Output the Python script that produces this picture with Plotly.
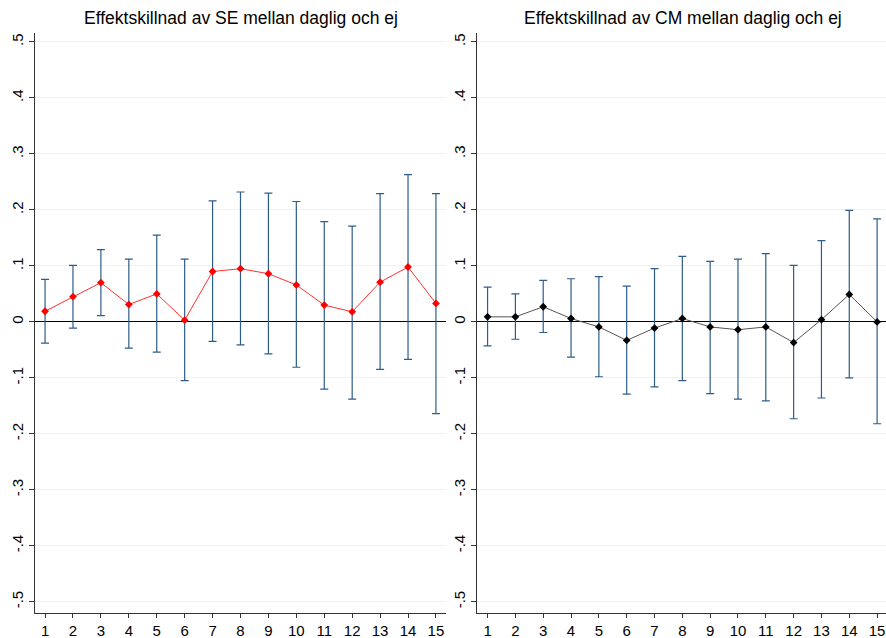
import plotly.graph_objects as go

x = list(range(1, 16))

se_est = [0.019, 0.045, 0.070, 0.031, 0.050, 0.003, 0.090, 0.095, 0.086, 0.066, 0.030, 0.018, 0.071, 0.098, 0.033]
se_hi = [0.076, 0.101, 0.129, 0.112, 0.155, 0.112, 0.216, 0.232, 0.230, 0.215, 0.179, 0.171, 0.229, 0.263, 0.229]
se_lo = [-0.038, -0.011, 0.011, -0.047, -0.054, -0.105, -0.035, -0.041, -0.057, -0.081, -0.120, -0.138, -0.085, -0.067, -0.164]

cm_est = [0.009, 0.009, 0.027, 0.006, -0.009, -0.033, -0.011, 0.006, -0.009, -0.014, -0.009, -0.037, 0.004, 0.049, 0.000]
cm_hi = [0.062, 0.050, 0.074, 0.077, 0.081, 0.064, 0.095, 0.117, 0.108, 0.112, 0.122, 0.101, 0.145, 0.199, 0.184]
cm_lo = [-0.043, -0.031, -0.019, -0.063, -0.098, -0.129, -0.116, -0.105, -0.128, -0.138, -0.141, -0.173, -0.136, -0.100, -0.182]

titles = ["Effektskillnad av SE mellan daglig och ej", "Effektskillnad av CM mellan daglig och ej"]
ytickvals = [-0.5, -0.4, -0.3, -0.2, -0.1, 0, 0.1, 0.2, 0.3, 0.4, 0.5]
yticktext = ["-.5", "-.4", "-.3", "-.2", "-.1", "0", ".1", ".2", ".3", ".4", ".5"]

BAR = "#2f5d8a"
FONT = "Liberation Sans, Arial, sans-serif"

fig = go.Figure()


def add_series(est, hi, lo, color, linecolor, xa, ya):
    fig.add_trace(go.Scatter(
        x=x, y=est, mode="lines+markers",
        line=dict(color=linecolor, width=1),
        marker=dict(symbol="diamond", size=6, color=color),
        error_y=dict(type="data", symmetric=False,
                     array=[h - e for h, e in zip(hi, est)],
                     arrayminus=[e - l for e, l in zip(est, lo)],
                     color=BAR, thickness=1.2, width=4),
        xaxis=xa, yaxis=ya, showlegend=False, hoverinfo="skip"))


add_series(se_est, se_hi, se_lo, "#ff0000", "#ff3030", "x", "y")
add_series(cm_est, cm_hi, cm_lo, "#000000", "#555555", "x2", "y2")

W = 886.0
xcommon = dict(tickvals=x, ticktext=[str(v) for v in x], ticks="outside", ticklen=4,
               tickcolor="#333", showline=True, linecolor="#333", linewidth=1,
               showgrid=False, zeroline=False, automargin=False,
               tickfont=dict(size=15, color="#000", family=FONT))
ycommon = dict(tickvals=ytickvals, ticktext=yticktext, range=[-0.52, 0.516], ticks="outside",
               ticklen=5, tickcolor="#333", showline=True, linecolor="#333", linewidth=1,
               showgrid=True, gridcolor="#eaf2f3", gridwidth=1,
               zeroline=True, zerolinecolor="#000", zerolinewidth=1, automargin=False,
               tickangle=-90, tickfont=dict(size=15, color="#000", family=FONT))

fig.update_layout(
    width=886, height=638,
    margin=dict(l=0, r=0, t=33, b=25),
    paper_bgcolor="white", plot_bgcolor="white",
    font=dict(family=FONT, color="#000"),
    xaxis=dict(domain=[35 / W, 446 / W], range=[0.64, 15.36], anchor="y", **xcommon),
    yaxis=dict(domain=[0, 1], anchor="x", **ycommon),
    xaxis2=dict(domain=[477 / W, 1.0], range=[0.62, 15.32], anchor="y2", **xcommon),
    yaxis2=dict(domain=[0, 1], anchor="x2", **ycommon),
)

for t, cx in zip(titles, [241 / W, 682.5 / W]):
    fig.add_annotation(text=t, x=cx, y=1 + 15 / 580, xref="paper", yref="paper",
                       xanchor="center", yanchor="middle", showarrow=False,
                       font=dict(size=17.5, color="#000", family=FONT))

fig.write_html("out.html", config={"displayModeBar": False},
               post_script="document.body.style.margin='0';document.body.style.overflow='hidden';")
